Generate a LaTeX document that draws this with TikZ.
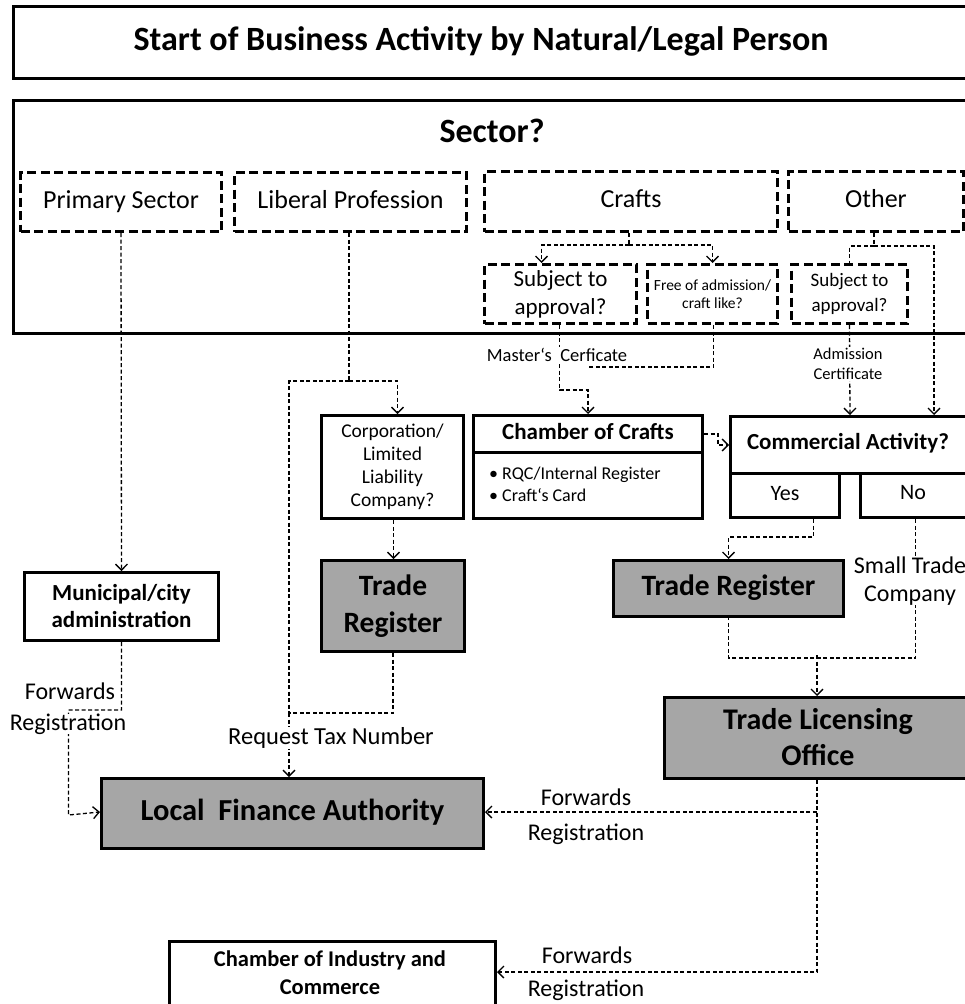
\documentclass[tikz,border=0pt]{standalone}
\usepackage{fontspec}
\setmainfont{Carlito}
\usetikzlibrary{arrows.meta}
\definecolor{boxgrey}{HTML}{A6A6A6}
\newcommand{\fsz}[1]{\fontsize{#1}{1.2\dimexpr #1pt\relax}\selectfont}
\begin{document}
\begin{tikzpicture}[x=1pt,y=-1pt,
  box/.style={draw, line width=3pt, inner sep=0pt, anchor=north west, align=center},
  dbox/.style={box, dash pattern=on 9pt off 4.5pt},
  grey/.style={fill=boxgrey},
  conn/.style={line width=1.3pt, dash pattern=on 4pt off 2.5pt},
  arr/.style={conn, -{Straight Barb[length=6pt,width=12pt,line width=1.3pt]}},
  lbl/.style={fill=white, inner sep=1pt, align=center},
  txt/.style={inner sep=0pt, align=center}
]
\clip (0,0) rectangle (965,1004);
% title
\node[box, minimum width=970pt, minimum height=72pt] (titlebox) at (12,5) {};
\node[txt, font=\fsz{34}\bfseries] (title) at (481,42) {\strut Start of Business Activity by Natural/Legal Person};
% sector
\node[box, minimum width=970pt, minimum height=233pt] (sectorbox) at (12,99) {};
\node[txt, font=\fsz{34}\bfseries] (sectort) at (492,134) {\strut Sector?};
\node[dbox, minimum width=201pt, minimum height=59pt, font=\fsz{26}] (primary) at (19,171) {\strut Primary Sector};
\node[dbox, minimum width=232pt, minimum height=59pt, font=\fsz{26}] (liberal) at (233,171) {\strut Liberal Profession};
\node[dbox, minimum width=293pt, minimum height=60pt, font=\fsz{26}] (crafts) at (483,170) {\strut Crafts};
\node[dbox, minimum width=175pt, minimum height=60pt, font=\fsz{26}] (other) at (787,170) {\strut Other};
\node[dbox, minimum width=152pt, minimum height=59pt, font=\fontsize{23}{28}\selectfont] (subja) at (483,263) {Subject to\\approval?};
\node[dbox, minimum width=130pt, minimum height=59pt, font=\fontsize{15.5}{18}\selectfont] (free) at (646,263) {Free of admission/\\craft like?};
\node[dbox, minimum width=116pt, minimum height=59pt, font=\fontsize{19}{25}\selectfont] (subjb) at (790,263) {Subject to\\approval?};
% middle boxes
\node[box, minimum width=142pt, minimum height=103pt, font=\fontsize{19.5}{23}\selectfont] (corp) at (320,414) {Corporation/\\Limited\\Liability\\Company?};
\node[box, minimum width=229pt, minimum height=37pt, font=\fsz{23}\bfseries] (crafthead) at (472,414) {\strut Chamber of Crafts};
\node[box, minimum width=229pt, minimum height=66pt] (craftbody) at (472,451) {};
\node[txt, anchor=west, align=left, font=\fontsize{18}{22}\selectfont] (craftlist) at (489,484) {\textbullet\ RQC/Internal Register\\\textbullet\ Craft‘s Card};
\node[box, minimum width=245pt, minimum height=57pt] (comact) at (729,415) {};
\node[txt, font=\fsz{23}\bfseries] (comactt) at (848,444) {\strut Commercial Activity?};
\node[box, minimum width=109pt, minimum height=44pt, font=\fsz{22}] (yes) at (729,472) {\strut Yes};
\node[box, minimum width=115pt, minimum height=44pt] (no) at (859,472) {};
\node[txt, font=\fsz{22}] (not) at (913,494) {\strut No};
\node[box, grey, minimum width=230pt, minimum height=56pt, font=\fsz{29.5}\bfseries] (trr) at (612,559) {\strut Trade Register};
\node[box, grey, minimum width=143pt, minimum height=91pt, font=\fontsize{29.5}{37}\bfseries\selectfont] (trl) at (320,559) {Trade\\Register};
\node[box, minimum width=194pt, minimum height=68pt, font=\fontsize{23}{27}\bfseries\selectfont] (muni) at (23,571) {Municipal/city\\administration};
\node[box, grey, minimum width=310pt, minimum height=81pt] (tlo) at (663,696) {};
\node[txt, font=\fontsize{30}{36}\bfseries\selectfont] (tlot) at (818,737) {Trade Licensing\\Office};
\node[box, grey, minimum width=382pt, minimum height=70pt, font=\fsz{30.5}\bfseries] (lfa) at (100,777) {\strut Local\ \ Finance Authority};
\node[box, minimum width=326pt, minimum height=80pt] (cic) at (168,940) {};
\node[txt, font=\fontsize{22.5}{28}\bfseries\selectfont] (cict) at (330,973) {Chamber of Industry and\\Commerce};
% junction coordinates
\coordinate (cj) at (629,245);
\coordinate (oj) at (874,246);
\coordinate (lj) at (349,381);
\coordinate (tj) at (289,713);
\coordinate (sj) at (817,655);
% connectors: sector
\draw[arr] (primary.south) -- (muni.north);
\draw[conn] (liberal.south -| lj) -- (lj);
\draw[conn] (lj) -| (tj);
\draw[arr] (lj) -| ([xshift=5pt]corp.north);
\draw[conn] (crafts.south -| cj) -- (cj);
\draw[arr] (cj) -| ([xshift=-19pt]subja.north);
\draw[arr] (cj) -| (free.north);
\draw[conn] (other.south -| oj) -- (oj);
\draw[conn] (oj) -| (subjb.north);
\draw[arr] (oj) -| ([xshift=81pt]comact.north);
% crafts to chamber
\draw[arr] ([xshift=-1pt]subja.south) |- ([yshift=24pt]crafthead.north) -- (crafthead.north);
\draw[conn] ([xshift=1pt]free.south) |- ([yshift=47pt]crafthead.north);
\node[lbl, font=\fsz{18.5}] (master) at (557,355) {Master‘s\ \ Cerficate};
\draw[arr] (subjb.south) -- ([xshift=-3pt]comact.north);
\node[lbl, font=\fontsize{16.5}{20}\selectfont] (admission) at (848,364) {Admission\\Certificate};
\draw[arr] (crafthead.east) -- ++(14,0) |- (comact.west);
% corporation / trade register / finance
\draw[arr] ([xshift=1pt]corp.south) -- ([xshift=0.5pt]trl.north);
\draw[conn] (trl.south) |- (tj);
\draw[arr] (tj) -- (tj |- lfa.north);
\node[lbl, font=\fsz{24.5}] (request) at (331,738) {Request Tax Number};
% commercial activity outcomes
\draw[arr] ([xshift=28.5pt]yes.south) |- ([yshift=22pt]trr.north) -- (trr.north);
\draw[conn] ([xshift=-2.5pt]no.south) -- ++(0,139) -| (trr.south);
\node[lbl, font=\fontsize{24}{28}\selectfont, inner sep=0pt] (small) at (910,581) {Small Trade\\Company};
\draw[arr] (sj) -- (sj |- tlo.north);
% municipal to finance
\draw[arr] (muni.south) -- ++(0,68) -| ++(-53,105) -- (lfa.west |- 0,812);
\node[txt, font=\fsz{24}] (fw1) at (70,691) {Forwards};
\node[lbl, font=\fsz{24}, inner sep=0pt] (rg1) at (68,724) {Registration};
% trade licensing to finance and chamber
\draw[arr] (tlo.south -| sj) |- (lfa.east |- 0,812);
\draw[arr] (tlo.south -| sj) |- (cic.east |- 0,972);
\node[txt, font=\fsz{24}] (fw2) at (586,797) {Forwards};
\node[txt, font=\fsz{24}] (rg2) at (586,834) {Registration};
\node[txt, font=\fsz{24}] (fw3) at (587,955) {Forwards};
\node[txt, font=\fsz{24}] (rg3) at (586,990) {Registration};
\end{tikzpicture}
\end{document}
